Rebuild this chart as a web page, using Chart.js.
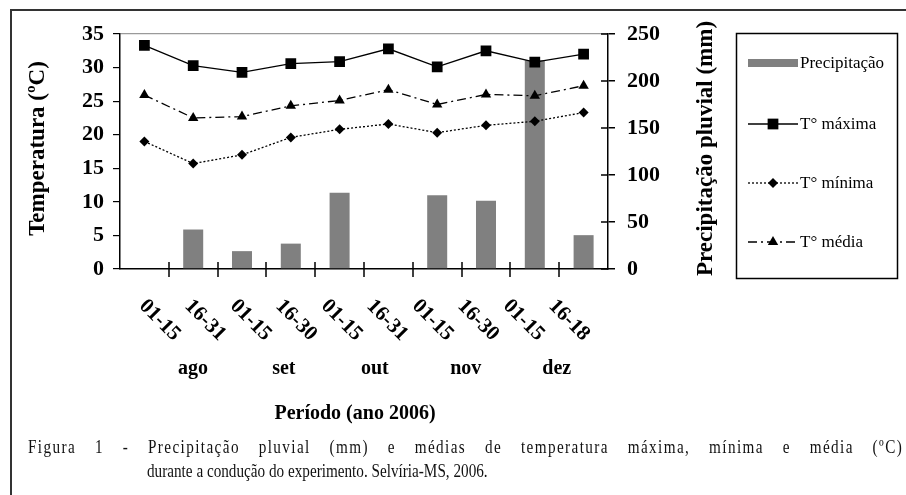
<!DOCTYPE html>
<html>
<head>
<meta charset="utf-8">
<script src="https://cdn.jsdelivr.net/npm/chart.js@4.4.0/dist/chart.umd.min.js"></script>
<style>
html,body{margin:0;padding:0;background:#fff;}
#wrap{position:relative;width:906px;height:495px;overflow:hidden;background:#fff;}
#frame{position:absolute;left:10px;top:9px;width:1000px;height:600px;border-top:2px solid #333;border-left:2px solid #333;}
canvas{position:absolute;left:0;top:0;}
.cap{position:absolute;font-family:'Liberation Serif','Times New Roman',serif;font-size:19px;color:#111;transform-origin:0 0;transform:scaleX(0.8);line-height:22px;}
#cap1{left:28px;top:436px;width:1094px;text-align:justify;text-align-last:justify;letter-spacing:1.75px;}
#cap2{left:147px;top:460px;white-space:nowrap;}
</style>
</head>
<body>
<div id="wrap">
<div id="frame"></div>
<canvas id="c" width="906" height="495"></canvas>
<div class="cap" id="cap1">Figura 1 - Precipitação pluvial (mm) e médias de temperatura máxima, mínima e média (ºC)</div>
<div class="cap" id="cap2">durante a condução do experimento. Selvíria-MS, 2006.</div>
</div>
<script>
const categories = ['01-15','16-31','01-15','16-30','01-15','16-31','01-15','16-30','01-15','16-18'];
const months = ['ago','set','out','nov','dez'];
const precipitacao = [0, 42, 19, 27, 81, 0, 78.5, 72.5, 222, 36];
const tMaxima = [33.3, 30.3, 29.3, 30.6, 30.9, 32.8, 30.1, 32.5, 30.8, 32.0];
const tMinima = [19.0, 15.7, 17.0, 19.6, 20.8, 21.6, 20.3, 21.4, 22.0, 23.3];
const tMedia  = [25.9, 22.5, 22.7, 24.3, 25.1, 26.7, 24.5, 26.0, 25.8, 27.3];
const tempAxisTitle = 'Temperatura (ºC)';
const precAxisTitle = 'Precipitação pluvial (mm)';
const xAxisTitle = 'Período (ano 2006)';

const SERIF = "'Liberation Serif', 'Times New Roman', serif";

const customDraw = {
  id: 'customDraw',
  afterDraw(chart) {
    const ctx = chart.ctx;
    const xs = chart.scales.x, yR = chart.scales.y1;
    const ca = chart.chartArea;
    const line = (x1, y1, x2, y2) => { ctx.beginPath(); ctx.moveTo(x1, y1); ctx.lineTo(x2, y2); ctx.stroke(); };
    ctx.save();
    ctx.strokeStyle = '#000';
    ctx.lineWidth = 1.5;
    ctx.setLineDash([]);
    const n = categories.length;
    const step = (ca.right - ca.left) / n;
    for (let i = 1; i < n; i++) {
      const px = Math.round(ca.left + i * step);
      line(px, ca.bottom - 7, px, ca.bottom + 8);
    }
    yR.ticks.forEach(t => {
      const py = yR.getPixelForValue(t.value);
      line(ca.right - 7, py, ca.right, py);
    });

    // rotated category labels
    ctx.fillStyle = '#000';
    ctx.font = 'bold 21px ' + SERIF;
    ctx.textAlign = 'left';
    ctx.textBaseline = 'middle';
    const labStep = step * 0.932;
    const x0 = xs.getPixelForValue(0) - 2;
    categories.forEach((c, i) => {
      ctx.save();
      ctx.translate(x0 + i * labStep, ca.bottom + 34);
      ctx.rotate(Math.PI / 4);
      ctx.fillText(c, 0, 0);
      ctx.restore();
    });
    // month labels
    ctx.font = 'bold 20px ' + SERIF;
    ctx.textAlign = 'center';
    ctx.textBaseline = 'alphabetic';
    months.forEach((m, k) => ctx.fillText(m, x0 + (2 * k + 1) * labStep + 5, ca.bottom + 105));
    // x title
    ctx.fillText(xAxisTitle, 355, ca.bottom + 150);

    // y titles
    ctx.font = 'bold 23px ' + SERIF;
    const cy = (ca.top + ca.bottom) / 2 - 3;
    ctx.textBaseline = 'middle';
    ctx.save(); ctx.translate(38, cy); ctx.rotate(-Math.PI / 2); ctx.fillText(tempAxisTitle, 0, 0); ctx.restore();
    ctx.save(); ctx.translate(706, cy); ctx.rotate(-Math.PI / 2); ctx.fillText(precAxisTitle, 0, 0); ctx.restore();

    // legend
    ctx.lineWidth = 1.5;
    ctx.strokeStyle = '#000';
    ctx.strokeRect(736.5, 33.5, 161, 245);
    const ys = [63, 124, 183, 242];
    ctx.font = '17px ' + SERIF;
    ctx.textAlign = 'left';
    chart.data.datasets.forEach((ds, i) => {
      const y = ys[i];
      if (ds.type === 'bar') {
        ctx.fillStyle = ds.backgroundColor;
        ctx.fillRect(748, y - 4, 50, 8);
      } else {
        ctx.strokeStyle = '#000';
        ctx.lineWidth = ds.borderWidth;
        ctx.setLineDash(ds.borderDash || []);
        line(748, y, 798, y);
        ctx.setLineDash([]);
        ctx.fillStyle = '#000';
        Chart.helpers.drawPoint(ctx, {pointStyle: ds.pointStyle, radius: ds.pointRadius, rotation: 0, borderWidth: 0}, 773, y);
      }
      ctx.fillStyle = '#000';
      ctx.fillText(ds.label, 800, y + 1);
    });
    ctx.restore();
  }
};

new Chart(document.getElementById('c'), {
  type: 'bar',
  data: {
    labels: categories,
    datasets: [
      {type: 'bar', label: 'Precipitação', data: precipitacao, yAxisID: 'y1', backgroundColor: '#808080', borderWidth: 0, barPercentage: 0.41, categoryPercentage: 1, order: 10},
      {type: 'line', label: 'T° máxima', data: tMaxima, yAxisID: 'y', borderColor: '#000', borderWidth: 1.3, pointStyle: 'rect', pointRadius: 7.6, pointBackgroundColor: '#000', pointBorderColor: '#000', pointBorderWidth: 0, tension: 0, order: 1},
      {type: 'line', label: 'T° mínima', data: tMinima, yAxisID: 'y', borderColor: '#000', borderWidth: 1.3, borderDash: [2, 2], pointStyle: 'rectRot', pointRadius: 5, pointBackgroundColor: '#000', pointBorderColor: '#000', pointBorderWidth: 0, tension: 0, order: 2},
      {type: 'line', label: 'T° média', data: tMedia, yAxisID: 'y', borderColor: '#000', borderWidth: 1.3, borderDash: [9, 4, 2, 4], pointStyle: 'triangle', pointRadius: 6, pointBackgroundColor: '#000', pointBorderColor: '#000', pointBorderWidth: 0, tension: 0, order: 3}
    ]
  },
  options: {
    responsive: false,
    animation: false,
    devicePixelRatio: 1,
    layout: {padding: {top: 34, left: 0, right: 0, bottom: 0}},
    plugins: {legend: {display: false}, tooltip: {enabled: false}},
    scales: {
      x: {
        type: 'category', offset: true,
        grid: {display: false},
        border: {display: true, color: '#000', width: 1.5},
        ticks: {display: false},
        afterFit(s) { s.height = 226; }
      },
      y: {
        position: 'left', min: 0, max: 35,
        ticks: {stepSize: 5, color: '#000', padding: 9, font: {family: SERIF, size: 22, weight: 'bold'}},
        grid: {color: c => (c.tick && c.tick.value === 35) ? '#9a9a9a' : 'rgba(0,0,0,0)', tickColor: '#000', tickLength: 7, lineWidth: 1.2},
        border: {display: true, color: '#000', width: 1.5},
        afterFit(s) { s.width = 120; }
      },
      y1: {
        position: 'right', min: 0, max: 250,
        ticks: {stepSize: 50, color: '#000', padding: 12, font: {family: SERIF, size: 22, weight: 'bold'}},
        grid: {drawOnChartArea: false, tickColor: '#000', tickLength: 7, lineWidth: 1.5},
        border: {display: true, color: '#000', width: 1.5},
        afterFit(s) { s.width = 298; }
      }
    }
  },
  plugins: [customDraw]
});
</script>
</body>
</html>
